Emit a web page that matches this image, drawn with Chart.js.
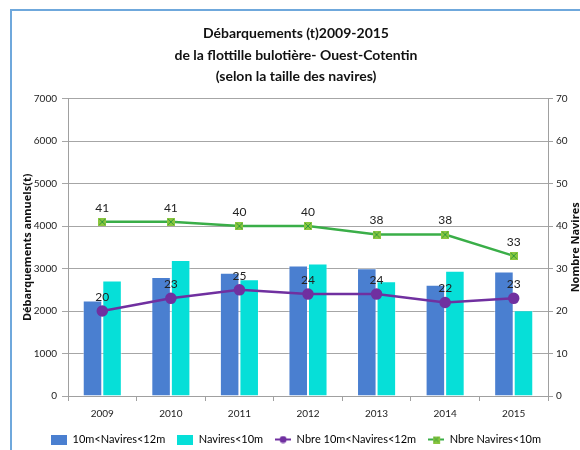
<!DOCTYPE html>
<html>
<head>
<meta charset="utf-8">
<script src="https://cdn.jsdelivr.net/npm/chart.js@4.4.1/dist/chart.umd.min.js"></script>
<style>
  html, body { margin: 0; padding: 0; background: #fff; overflow: hidden; }
  #frame {
    position: absolute; left: 10px; top: 9px;
    width: 570px; height: 441px;
    border-left: 2px solid #6fa8dc; border-top: 2px solid #6fa8dc;
  }
  #chart { display: block; }
</style>
</head>
<body>
<div id="frame"><canvas id="chart" width="568" height="444"></canvas></div>
<script>
  const years = ["2009", "2010", "2011", "2012", "2013", "2014", "2015"];
  // tonnages débarqués (t)
  const tonnesMedium = [2250, 2800, 2900, 3070, 3010, 2620, 2930];
  const tonnesSmall = [2720, 3200, 2750, 3120, 2700, 2950, 2020];
  // nombre de navires
  const countMedium = [20, 23, 25, 24, 24, 22, 23];
  const countSmall = [41, 41, 40, 40, 38, 38, 33];

  const FONT = "Lato, 'Open Sans', sans-serif";
  const AXIS_TITLE_FONT = "bold 11px 'Open Sans', sans-serif";
  const BLUE = "#4a7fd0";
  const CYAN = "#06dfd8";
  const PURPLE = "#7030a0";
  const GREEN = "#3aae48";

  // petit carré vert barré d'une croix
  function crossSquare(size) {
    const c = document.createElement("canvas");
    c.width = size; c.height = size;
    const g = c.getContext("2d");
    g.fillStyle = "#8cc63f";
    g.fillRect(0, 0, size, size);
    g.strokeStyle = "#2e9b3a";
    g.lineWidth = 1;
    g.beginPath();
    g.moveTo(1, 1); g.lineTo(size - 1, size - 1);
    g.moveTo(size - 1, 1); g.lineTo(1, size - 1);
    g.stroke();
    return c;
  }

  // icônes de légende
  function boxIcon(color) {
    const c = document.createElement("canvas");
    c.width = 16; c.height = 10;
    const g = c.getContext("2d");
    g.fillStyle = color;
    g.fillRect(0, 0, 16, 10);
    return c;
  }
  function lineIcon(color, marker) {
    const c = document.createElement("canvas");
    c.width = 16; c.height = 8;
    const g = c.getContext("2d");
    g.strokeStyle = color;
    g.lineWidth = 2;
    g.beginPath(); g.moveTo(0, 4); g.lineTo(16, 4); g.stroke();
    if (marker === "circle") {
      g.fillStyle = color;
      g.beginPath(); g.arc(8, 4, 3.5, 0, Math.PI * 2); g.fill();
    } else {
      g.drawImage(crossSquare(7), 4.5, 0.5);
    }
    return c;
  }

  const squareMarker = crossSquare(8);

  // étiquettes de valeurs au-dessus des points
  const pointLabels = {
    id: "pointLabels",
    afterDatasetsDraw(chart) {
      const ctx = chart.ctx;
      ctx.save();
      ctx.font = "12px " + FONT;
      ctx.fillStyle = "#222";
      ctx.textAlign = "center";
      ctx.textBaseline = "bottom";
      chart.data.datasets.forEach((ds, i) => {
        if (ds.type !== "line") return;
        chart.getDatasetMeta(i).data.forEach((pt, j) => {
          ctx.fillText(String(ds.data[j]), pt.x, pt.y - 8);
        });
      });
      ctx.restore();
    }
  };

  // titre de l'axe de droite, lu de bas en haut
  const rightTitle = {
    id: "rightTitle",
    afterDraw(chart) {
      const ctx = chart.ctx;
      const area = chart.chartArea;
      ctx.save();
      ctx.translate(chart.width - 4, (area.top + area.bottom) / 2);
      ctx.rotate(-Math.PI / 2);
      ctx.font = AXIS_TITLE_FONT;
      ctx.fillStyle = "#111";
      ctx.textAlign = "center";
      ctx.textBaseline = "middle";
      ctx.fillText("Nombre Navires", 0, 0);
      ctx.restore();
    }
  };

  new Chart(document.getElementById("chart"), {
    type: "bar",
    data: {
      labels: years,
      datasets: [
        {
          label: "10m<Navires<12m",
          data: tonnesMedium,
          backgroundColor: BLUE,
          borderColor: "rgba(255,255,255,0.45)",
          borderWidth: 1,
          yAxisID: "y",
          order: 2,
          legendIcon: boxIcon(BLUE)
        },
        {
          label: "Navires<10m",
          data: tonnesSmall,
          backgroundColor: CYAN,
          borderColor: "rgba(255,255,255,0.45)",
          borderWidth: 1,
          yAxisID: "y",
          order: 2,
          legendIcon: boxIcon(CYAN)
        },
        {
          type: "line",
          label: "Nbre 10m<Navires<12m",
          data: countMedium,
          borderColor: PURPLE,
          backgroundColor: PURPLE,
          borderWidth: 2.5,
          pointRadius: 4.5,
          pointStyle: "circle",
          yAxisID: "y1",
          order: 1,
          legendIcon: lineIcon(PURPLE, "circle")
        },
        {
          type: "line",
          label: "Nbre Navires<10m",
          data: countSmall,
          borderColor: GREEN,
          backgroundColor: GREEN,
          borderWidth: 2.5,
          pointStyle: squareMarker,
          yAxisID: "y1",
          order: 1,
          legendIcon: lineIcon(GREEN, "square")
        }
      ]
    },
    options: {
      responsive: false,
      animation: false,
      layout: { padding: 0 },
      datasets: {
        bar: { categoryPercentage: 0.57, barPercentage: 1 }
      },
      plugins: {
        title: {
          display: true,
          text: [
            "Débarquements (t)2009-2015",
            "de la flottille bulotière- Ouest-Cotentin",
            "(selon la taille des navires)"
          ],
          color: "#111",
          font: { family: FONT, size: 14, weight: "bold", lineHeight: 1.54 },
          padding: { top: 12, bottom: 11 }
        },
        legend: {
          position: "bottom",
          labels: {
            usePointStyle: true,
            pointStyleWidth: 16,
            boxHeight: 10,
            padding: 12,
            color: "#222",
            font: { family: FONT, size: 11 },
            generateLabels(chart) {
              return chart.data.datasets.map((ds, i) => ({
                text: ds.label,
                pointStyle: ds.legendIcon,
                fillStyle: ds.backgroundColor,
                strokeStyle: ds.borderColor,
                lineWidth: 0,
                hidden: false,
                datasetIndex: i
              }));
            }
          }
        },
        tooltip: { enabled: false }
      },
      scales: {
        x: {
          offset: true,
          grid: {
            offset: true,
            drawOnChartArea: false,
            drawTicks: true,
            tickLength: 5,
            color: "#a0a0a0"
          },
          border: { display: true, color: "#a0a0a0" },
          ticks: { color: "#222", font: { family: FONT, size: 10 }, padding: 7 },
          afterFit(scale) { scale.height = 26; }
        },
        y: {
          position: "left",
          min: 0,
          max: 7000,
          ticks: {
            stepSize: 1000,
            color: "#222",
            font: { family: FONT, size: 10 },
            padding: 5,
            callback: (v) => String(v)
          },
          grid: { color: "#a6a6a6", tickLength: 6 },
          border: { display: true, color: "#a0a0a0" },
          title: {
            display: true,
            text: "Débarquements annuels(t)",
            color: "#111",
            font: { family: "'Open Sans', sans-serif", size: 11, weight: "bold" },
            padding: { top: 9, bottom: 0 }
          },
          afterFit(scale) { scale.width = 56; }
        },
        y1: {
          position: "right",
          min: 0,
          max: 70,
          ticks: { stepSize: 10, color: "#222", font: { family: FONT, size: 10 }, padding: 3 },
          grid: { drawOnChartArea: false, color: "#a0a0a0", tickLength: 5 },
          border: { display: true, color: "#a0a0a0" },
          afterFit(scale) { scale.width = 32; }
        }
      }
    },
    plugins: [pointLabels, rightTitle]
  });
</script>
</body>
</html>
